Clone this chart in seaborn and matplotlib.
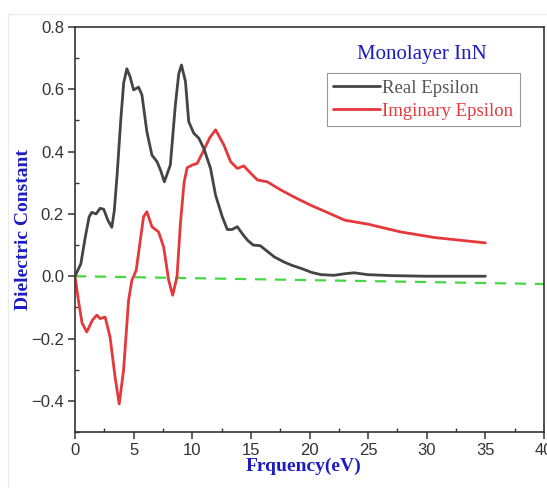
import numpy as np
import pandas as pd
import matplotlib
matplotlib.use("Agg")
import matplotlib.pyplot as plt
from matplotlib.ticker import MultipleLocator
from matplotlib.patches import Rectangle
import seaborn as sns

# ---- data ----
real_x = [0.0, 0.5, 0.85, 1.2, 1.43, 1.8, 2.14, 2.45, 2.8, 3.14, 3.35, 3.6, 3.9, 4.15, 4.42,
          4.7, 5.0, 5.42, 5.71, 6.13, 6.56, 6.99, 7.3, 7.62, 8.13, 8.56, 8.85, 9.08, 9.42,
          9.7, 10.13, 10.56, 10.99, 11.56, 11.99, 12.56, 12.99, 13.4, 13.84, 14.3, 14.7,
          15.2, 15.8, 16.4, 17.0, 17.8, 18.5, 19.3, 20.2, 21.0, 22.1, 23.0, 23.8, 25.0,
          27.0, 30.0, 35.0]
real_y = [0.0, 0.04, 0.12, 0.19, 0.205, 0.20, 0.218, 0.215, 0.18, 0.157, 0.21, 0.33, 0.50, 0.62, 0.666,
          0.64, 0.598, 0.607, 0.582, 0.464, 0.389, 0.368, 0.34, 0.303, 0.357, 0.55, 0.65, 0.678, 0.625,
          0.496, 0.459, 0.443, 0.41, 0.346, 0.26, 0.191, 0.150, 0.150, 0.159, 0.135, 0.116,
          0.100, 0.098, 0.080, 0.062, 0.046, 0.035, 0.025, 0.012, 0.005, 0.003, 0.008, 0.011, 0.005,
          0.002, 0.0, 0.0]

imag_x = [0.0, 0.3, 0.6, 1.0, 1.5, 1.86, 2.14, 2.57, 2.99, 3.42, 3.77, 4.14, 4.57, 4.85, 5.22,
          5.57, 5.85, 6.13, 6.56, 7.13, 7.56, 7.99, 8.33, 8.7, 8.99, 9.3, 9.56, 9.99, 10.42,
          10.99, 11.5, 11.99, 12.7, 13.27, 13.84, 14.4, 15.0, 15.56, 16.4, 17.55, 18.8, 20.1,
          21.5, 23.0, 25.0, 27.8, 30.7, 33.0, 35.0]
imag_y = [0.0, -0.08, -0.15, -0.179, -0.14, -0.125, -0.136, -0.131, -0.195, -0.324, -0.41, -0.302, -0.077, -0.013, 0.019,
          0.116, 0.191, 0.207, 0.159, 0.142, 0.094, -0.013, -0.061, -0.002, 0.169, 0.30, 0.348, 0.357, 0.362,
          0.405, 0.445, 0.47, 0.421, 0.368, 0.346, 0.354, 0.33, 0.309, 0.303, 0.277, 0.252, 0.228,
          0.205, 0.18, 0.167, 0.142, 0.124, 0.115, 0.107]

ref_x = [0.0, 40.0]
ref_y = [0.0, -0.025]

x_ticks = [0, 5, 10, 15, 20, 25, 30, 35, 40]
y_ticks = [-0.4, -0.2, 0.0, 0.2, 0.4, 0.6, 0.8]

series_names = ["Real Epsilon", "Imginary Epsilon"]
title_text = "Monolayer InN"
xlabel = "Frquency(eV)"
ylabel = "Dielectric Constant"

# ---- styling ----
sns.set_style("ticks")
plt.rcParams["font.family"] = ["Liberation Sans", "DejaVu Sans"]

real_color = "#444444"
imag_color = "#e5383b"
label_blue = "#1c1cc4"

fig = plt.figure(figsize=(5.47, 4.88), dpi=100)
ax = fig.add_axes([75 / 547, 1 - 432 / 488, (544 - 75) / 547, (432 - 27) / 488])

df_real = pd.DataFrame({"x": real_x, "y": real_y})
df_imag = pd.DataFrame({"x": imag_x, "y": imag_y})
df_ref = pd.DataFrame({"x": ref_x, "y": ref_y})

sns.lineplot(data=df_ref, x="x", y="y", ax=ax, color="#44d844", lw=1.6,
             dashes=False, sort=False, estimator=None, zorder=1)
ax.lines[-1].set_dashes((5, 4))
sns.lineplot(data=df_real, x="x", y="y", ax=ax, color=real_color, lw=2.0,
             sort=False, estimator=None, label=series_names[0], zorder=3)
sns.lineplot(data=df_imag, x="x", y="y", ax=ax, color=imag_color, lw=2.0,
             sort=False, estimator=None, label=series_names[1], zorder=2)
for ln in ax.lines[1:]:
    ln.set_solid_joinstyle("round")
    ln.set_solid_capstyle("round")

ax.set_xlim(0, 40)
ax.set_ylim(-0.5, 0.8)
ax.set_xticks(x_ticks)
ax.set_yticks(y_ticks)
ax.xaxis.set_minor_locator(MultipleLocator(2.5))
ax.yaxis.set_minor_locator(MultipleLocator(0.1))
ax.tick_params(which="major", direction="out", length=5, width=1.1, color="#333333",
               labelsize=12, labelcolor="#333333", pad=3)
ax.tick_params(which="minor", direction="in", length=3, width=1.0, color="#333333")
ax.set_yticklabels([f"{v:.1f}".replace("-", "\u2212") for v in y_ticks])
for sp in ax.spines.values():
    sp.set_visible(True)
    sp.set_color("#333333")
    sp.set_linewidth(1.2)

ax.set_xlabel(xlabel, family="Liberation Serif", fontweight="bold", fontsize=14,
              color=label_blue)
ax.xaxis.set_label_coords((304 - 75) / 469, -(466 - 432) / 405)
ax.xaxis.label.set_va("center")
ax.set_ylabel(ylabel, family="Liberation Serif", fontweight="bold", fontsize=14,
              color=label_blue)
ax.yaxis.set_label_coords(-(75 - 24) / 469, 0.5)
ax.yaxis.label.set_va("center")

leg = ax.legend(loc="upper left", bbox_to_anchor=(0.537, 0.886), borderaxespad=0,
                frameon=True, fancybox=False, edgecolor="#999999", framealpha=1,
                prop={"family": "Liberation Serif", "size": 13.5},
                handlelength=2.5, handletextpad=0.1, labelspacing=0.3,
                borderpad=0.35)
leg.get_frame().set_linewidth(0.8)
for txt, col in zip(leg.get_texts(), ["#555555", imag_color]):
    txt.set_color(col)

ax.text((422 - 75) / 469, (432 - 55) / 405, title_text, transform=ax.transAxes,
        ha="center", va="center", family="Liberation Serif", fontsize=15, color=label_blue)

fig.patches.append(Rectangle((8 / 547, -0.01), 1.02, 1 - 14 / 488 + 0.01,
                             transform=fig.transFigure, fill=False,
                             edgecolor="#ececec", lw=1.0, zorder=0))

fig.savefig("out.png", dpi=100)
